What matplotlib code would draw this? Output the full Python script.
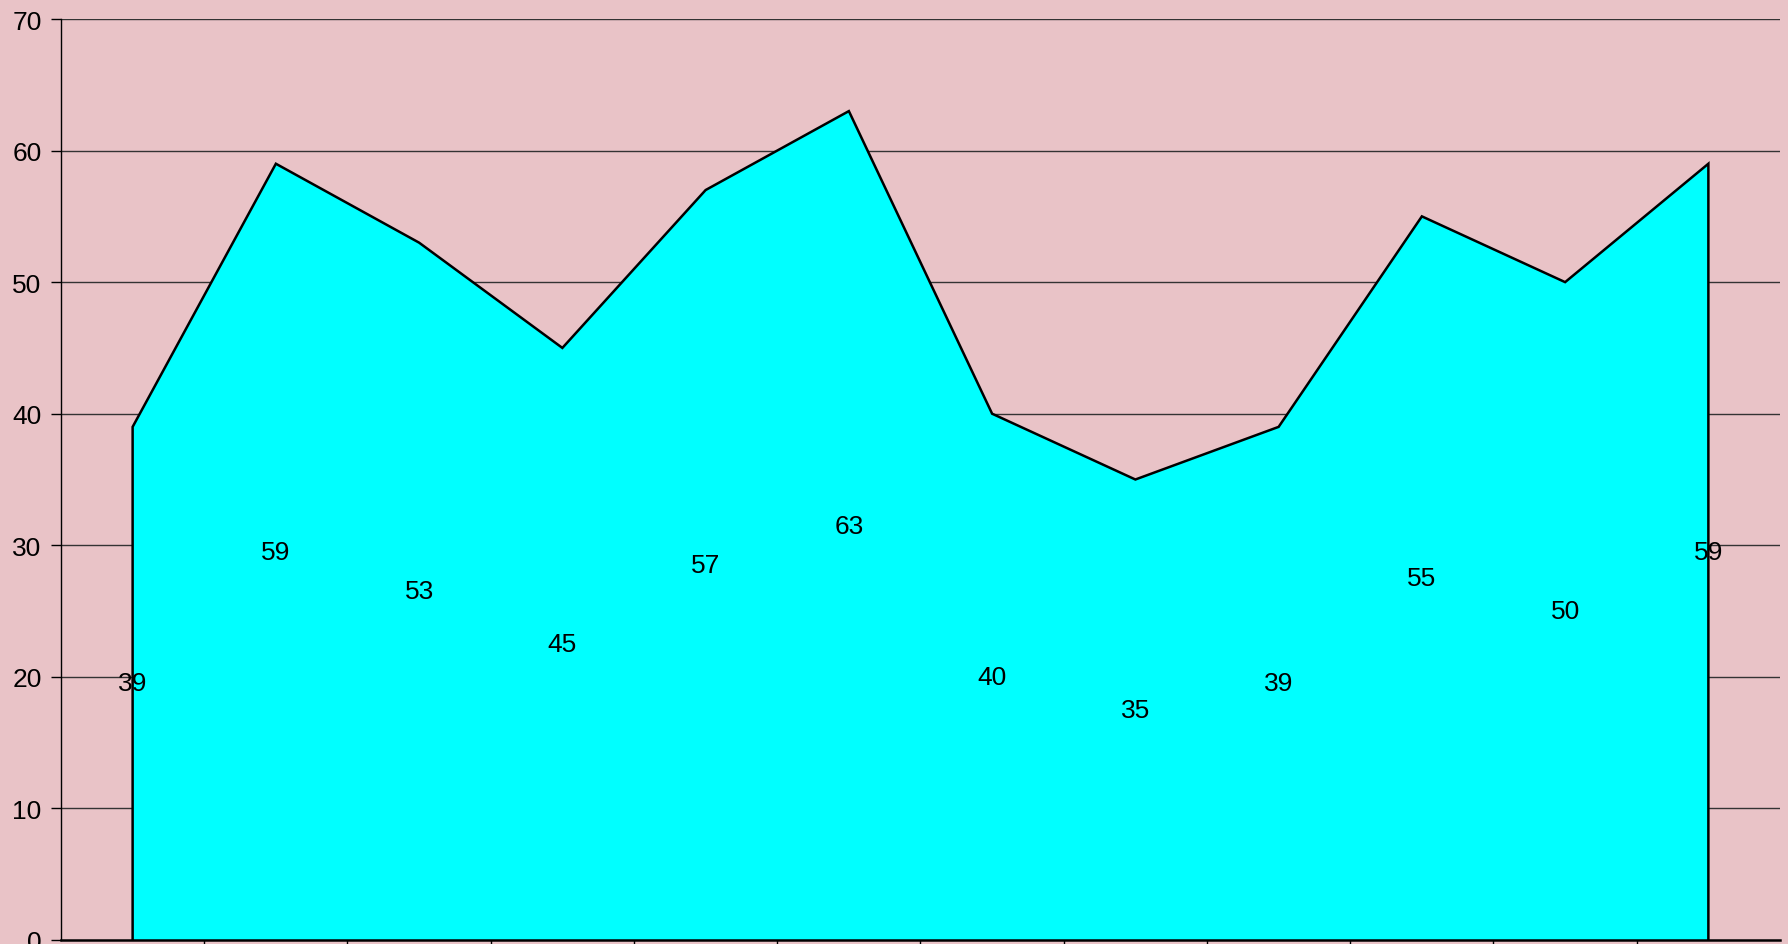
import numpy as np
import matplotlib
matplotlib.use("Agg")
import matplotlib.pyplot as plt

# values
values = [39, 59, 53, 45, 57, 63, 40, 35, 39, 55, 50, 59]
y_ticks = [0, 10, 20, 30, 40, 50, 60, 70]

bg_color = '#e9c3c7'
fill_color = '#00ffff'

plt.rcParams['font.family'] = ['Liberation Sans', 'DejaVu Sans']

fig = plt.figure(figsize=(17.88, 9.45), dpi=100)
fig.patch.set_facecolor(bg_color)
ax = fig.add_axes([61/1788, 4/945, (1780-61)/1788, (941-20)/945])
ax.set_facecolor(bg_color)

x = np.arange(len(values)) + 0.5

# horizontal gridlines below the area
for t in y_ticks[1:]:
    ax.axhline(t, color='#333333', lw=1.0, zorder=1)

ax.fill_between(x, 0, values, facecolor=fill_color, edgecolor='none', zorder=2)
# outline of the area
ox = np.concatenate([[x[0]], x, [x[-1]]])
oy = np.concatenate([[0], values, [0]])
ax.plot(ox, oy, color='black', lw=1.8, zorder=3, solid_joinstyle='miter')

# data labels at half height
for xi, v in zip(x, values):
    ax.text(xi, v / 2, str(v), ha='center', va='center', fontsize=19,
            color='black', zorder=4)

ax.set_xlim(0, len(values))
ax.set_ylim(0, 70)
ax.set_yticks(y_ticks)
ax.set_xticks(np.arange(1, len(values)))
ax.set_xticklabels([])
ax.tick_params(axis='y', labelsize=19, length=7, width=1, pad=7, colors='black')
ax.tick_params(axis='x', length=10, width=1, direction='out')

for side in ['top', 'right']:
    ax.spines[side].set_visible(False)
ax.spines['left'].set_linewidth(1.0)
ax.spines['bottom'].set_linewidth(1.8)
ax.spines['left'].set_zorder(5)
ax.spines['bottom'].set_zorder(5)

fig.savefig('out.png', dpi=100, facecolor=bg_color)
